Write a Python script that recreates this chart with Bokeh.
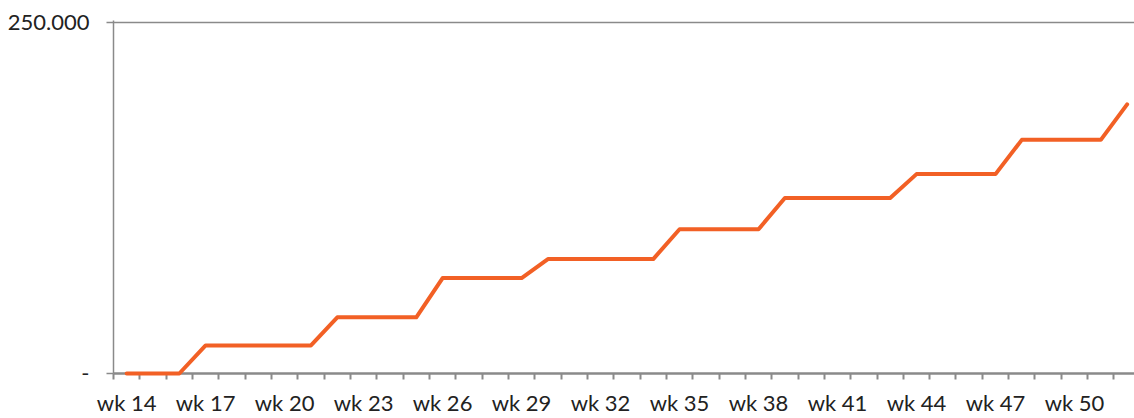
from bokeh.plotting import figure
from bokeh.models import Range1d, FixedTicker
from bokeh.embed import file_html
from bokeh.resources import INLINE

weeks = [f"wk {n}" for n in range(14, 53)]
values = [0, 0, 0,
          20000, 20000, 20000, 20000, 20000,
          40000, 40000, 40000, 40000,
          68000, 68000, 68000, 68000,
          81500, 81500, 81500, 81500, 81500,
          102700, 102700, 102700, 102700,
          125000, 125000, 125000, 125000, 125000,
          142000, 142000, 142000, 142000,
          166400, 166400, 166400, 166400,
          191700]
y_ticks = [0, 250000]
y_tick_labels = ["-", "250.000"]

idx = list(range(len(weeks)))
label_idx = idx[::3]  # wk 14 ... wk 50

p = figure(width=1134, height=418, output_backend="svg", toolbar_location=None,
           x_range=Range1d(-0.5, 38.28), y_range=Range1d(0, 250000 + 1400),
           min_border_left=113, min_border_right=0, min_border_top=20, min_border_bottom=40)
p.outline_line_color = None
p.background_fill_color = "white"
p.border_fill_color = "white"

r = p.line(idx, values, line_color="#F26025", line_width=4, line_cap="round", line_join="round")
r.level = "overlay"

FONT = "Lato"
AX = "#8a8a8a"
TXT = "#222222"

xa = p.xaxis[0]
xa.ticker = FixedTicker(ticks=label_idx, minor_ticks=[i - 0.5 for i in range(len(weeks) + 1)])
xa.major_label_overrides = {i: weeks[i] for i in label_idx}
xa.axis_line_color = AX
xa.axis_line_width = 2.5
xa.major_tick_line_color = None
xa.major_tick_out = 0
xa.major_tick_in = 0
xa.minor_tick_line_color = AX
xa.minor_tick_line_width = 2
xa.minor_tick_out = 6
xa.minor_tick_in = 0
xa.major_label_text_font = FONT
xa.major_label_text_font_size = "22px"
xa.major_label_text_color = TXT
xa.major_label_standoff = 9

ya = p.yaxis[0]
ya.ticker = FixedTicker(ticks=y_ticks, minor_ticks=[])
ya.major_label_overrides = {t: l for t, l in zip(y_ticks, y_tick_labels)}
ya.axis_line_color = AX
ya.axis_line_width = 1.5
ya.major_tick_line_color = AX
ya.major_tick_line_width = 1.5
ya.major_tick_out = 7
ya.major_tick_in = 0
ya.minor_tick_line_color = None
ya.major_label_text_font = FONT
ya.major_label_text_font_size = "22px"
ya.major_label_text_color = TXT
ya.major_label_standoff = 17

p.xgrid.grid_line_color = None
p.ygrid.ticker = FixedTicker(ticks=y_ticks)
p.ygrid.grid_line_color = AX
p.ygrid.grid_line_width = 1.5

open("out.html", "w").write(file_html(p, INLINE))
